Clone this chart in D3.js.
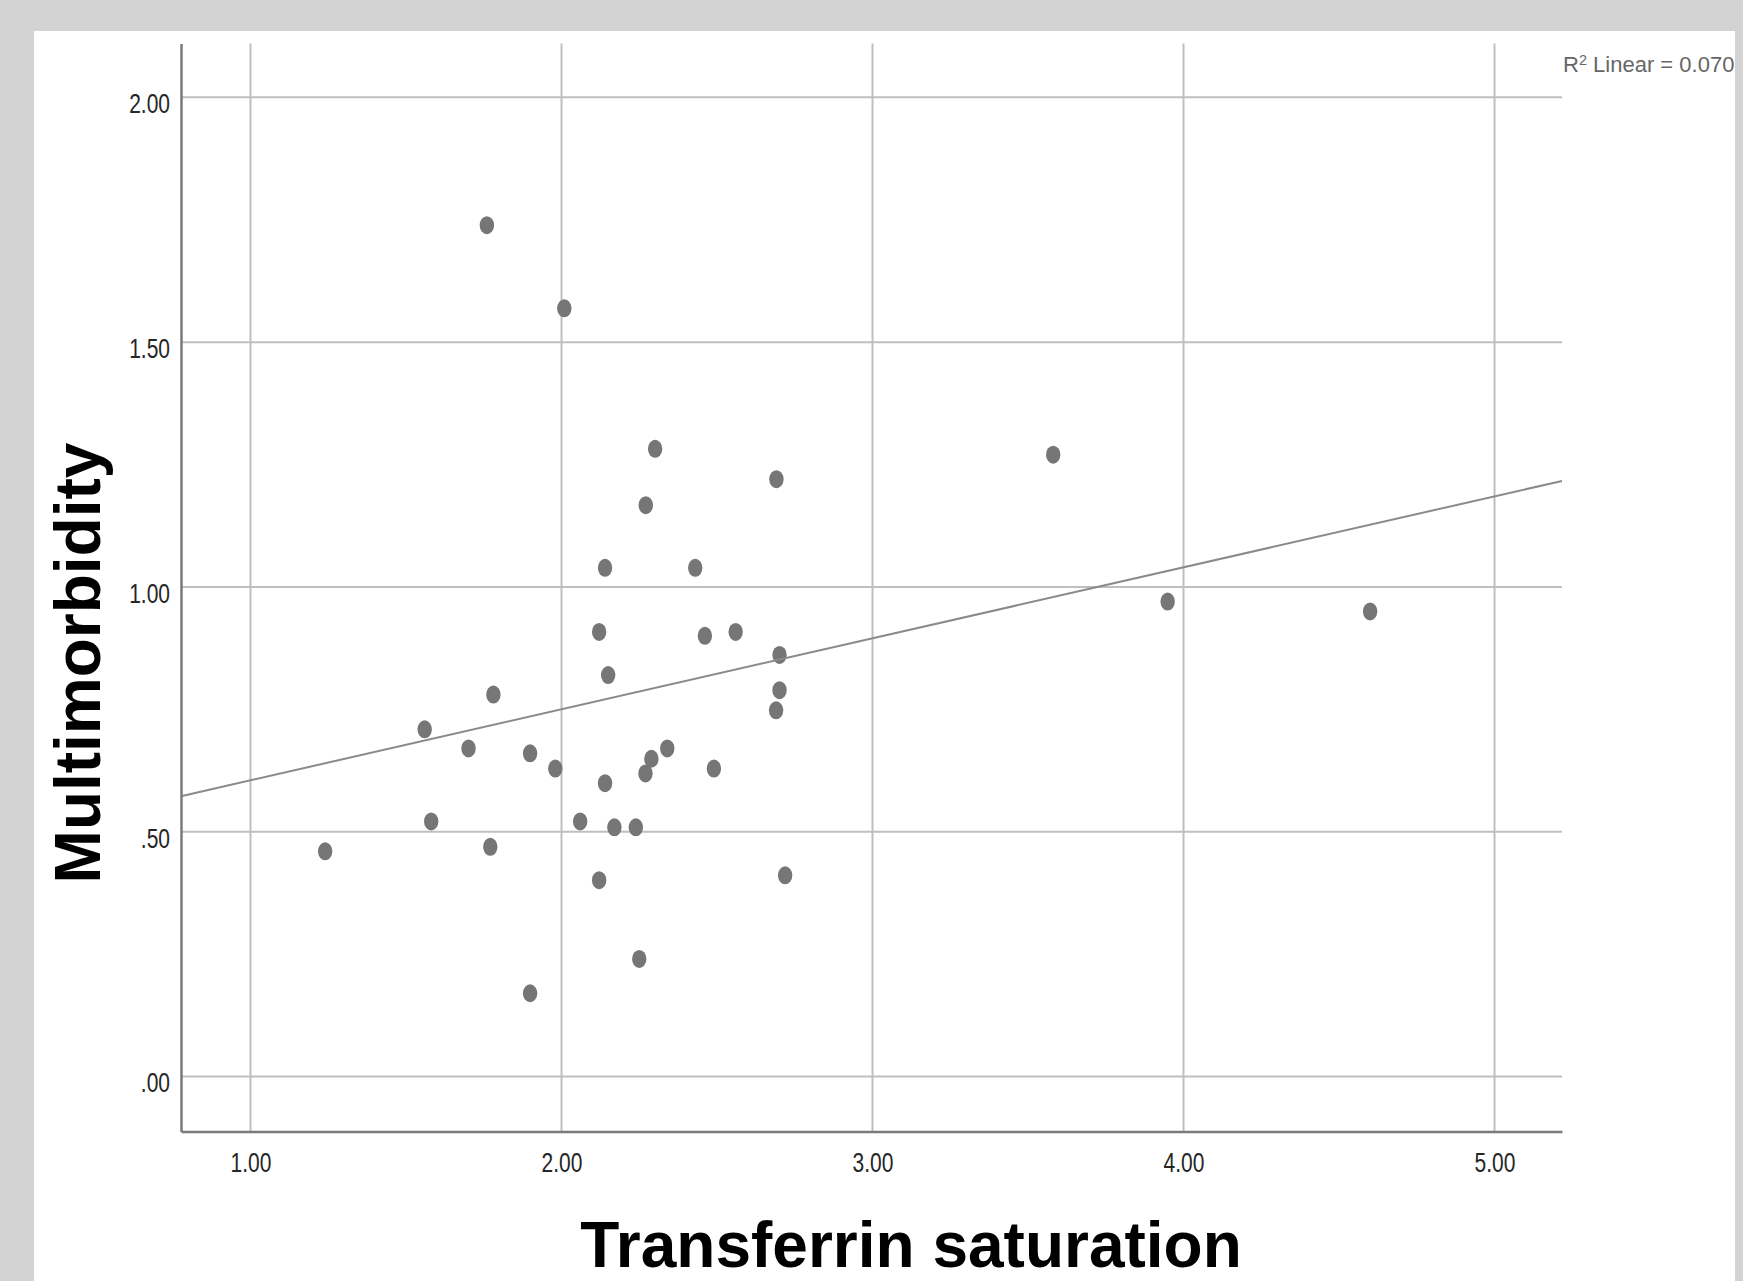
<!DOCTYPE html>
<html>
<head>
<meta charset="utf-8">
<script src="https://cdn.jsdelivr.net/npm/d3@7"></script>
<style>
  body { margin: 0; background: #d3d3d3; }
  text { font-family: "Liberation Sans", Arial, sans-serif; }
</style>
</head>
<body>
<svg id="chart" width="1743" height="1281"></svg>
<script>

// values
var xTicks = [1, 2, 3, 4, 5];
var yTicks = [0, 0.5, 1, 1.5, 2];

var transferrin = [1.760, 2.009, 2.301, 3.581, 2.691, 2.271, 2.140, 2.430, 3.949, 4.600,
  2.121, 2.461, 2.560, 2.701, 2.150, 1.781, 2.701, 2.690, 1.560, 1.701,
  2.340, 1.899, 2.289, 1.980, 2.490, 2.270, 2.140, 1.581, 2.060, 2.170,
  2.239, 1.240, 1.771, 2.719, 2.121, 2.250, 1.899];

var multimorbidity = [1.739, 1.569, 1.282, 1.270, 1.220, 1.167, 1.039, 1.039, 0.970, 0.950,
  0.908, 0.900, 0.908, 0.861, 0.820, 0.780, 0.789, 0.748, 0.709, 0.670,
  0.670, 0.660, 0.649, 0.629, 0.629, 0.619, 0.599, 0.521, 0.521, 0.509,
  0.509, 0.460, 0.469, 0.411, 0.401, 0.240, 0.170];

// linear fit as drawn in the output
var fitIntercept = 0.460;
var fitSlope = 0.145;
var r2Value = "0.070";

var xLabel = "Transferrin saturation";
var yLabel = "Multimorbidity";

function drawScatter() {

  var svg = d3.select("#chart");

  // white panel
  svg.append("rect")
    .attr("x", 34).attr("y", 31)
    .attr("width", 1701).attr("height", 1260)
    .attr("fill", "#fff");

  var plotLeft = 181, plotRight = 1562, plotTop = 43.5, plotBottom = 1131.5;

  var x = d3.scaleLinear().domain([0.7765, 5.217]).range([plotLeft, plotRight]);
  var y = d3.scaleLinear().domain([-0.1124, 2.110]).range([plotBottom, plotTop]);

  var fmtX = d3.format(".2f");
  var fmtY = function (d) { return d3.format(".2f")(d).replace(/^0\./, "."); };

  // grid
  var grid = svg.append("g")
    .attr("stroke", "#bfbfbf")
    .attr("stroke-width", 2);

  grid.selectAll("line.h")
    .data(yTicks)
    .enter().append("line")
    .attr("class", "h")
    .attr("x1", plotLeft).attr("x2", plotRight)
    .attr("y1", function (d) { return y(d); })
    .attr("y2", function (d) { return y(d); });

  grid.selectAll("line.v")
    .data(xTicks)
    .enter().append("line")
    .attr("class", "v")
    .attr("y1", plotTop).attr("y2", plotBottom)
    .attr("x1", function (d) { return x(d); })
    .attr("x2", function (d) { return x(d); });

  // points
  var pts = transferrin.map(function (d, i) { return [d, multimorbidity[i]]; });

  svg.append("g")
    .selectAll("ellipse")
    .data(pts)
    .enter().append("ellipse")
    .attr("cx", function (d) { return x(d[0]); })
    .attr("cy", function (d) { return y(d[1]); })
    .attr("rx", 7.2)
    .attr("ry", 9)
    .attr("fill", "#767676");

  // fit line
  var x0 = x.domain()[0], x1 = x.domain()[1];
  svg.append("line")
    .attr("x1", x(x0)).attr("y1", y(fitIntercept + fitSlope * x0))
    .attr("x2", x(x1)).attr("y2", y(fitIntercept + fitSlope * x1))
    .attr("stroke", "#8a8a8a")
    .attr("stroke-width", 2);

  // axes
  var xAxis = svg.append("g")
    .attr("transform", "translate(0," + plotBottom + ")")
    .call(d3.axisBottom(x).tickValues(xTicks).tickFormat(fmtX).tickSize(0).tickSizeOuter(0));

  var yAxis = svg.append("g")
    .attr("transform", "translate(" + plotLeft + ",0)")
    .call(d3.axisLeft(y).tickValues(yTicks).tickFormat(fmtY).tickSize(0).tickSizeOuter(0));

  [xAxis, yAxis].forEach(function (a) {
    a.select(".domain").attr("stroke", "#7a7a7a").attr("stroke-width", 2.5);
    a.selectAll("text")
      .attr("font-family", "Liberation Sans, Arial, sans-serif")
      .attr("font-size", 21)
      .attr("fill", "#262626");
  });

  // the source renders its tick labels tall and narrow
  xAxis.selectAll("text")
    .attr("y", 0).attr("dy", 0)
    .attr("transform", "translate(0,40) scale(1,1.28)");

  yAxis.selectAll("text")
    .attr("x", 0).attr("dy", 0)
    .attr("transform", "translate(-11,15.5) scale(1,1.28)");

  // R2 note
  var r2 = svg.append("text")
    .attr("x", 1563).attr("y", 71.5)
    .attr("font-size", 22)
    .attr("fill", "#666");
  r2.append("tspan").text("R");
  r2.append("tspan").attr("dy", -6.5).attr("font-size", 14.5).text("2");
  r2.append("tspan").attr("dy", 6.5).text(" Linear = " + r2Value);

  // titles
  svg.append("text")
    .attr("x", 911).attr("y", 1267)
    .attr("text-anchor", "middle")
    .attr("font-size", 64)
    .attr("font-weight", "bold")
    .attr("fill", "#000")
    .text(xLabel);

  svg.append("text")
    .attr("transform", "translate(100,663) rotate(-90)")
    .attr("text-anchor", "middle")
    .attr("font-size", 64)
    .attr("font-weight", "bold")
    .attr("fill", "#000")
    .text(yLabel);
}

drawScatter();

</script>
</body>
</html>
